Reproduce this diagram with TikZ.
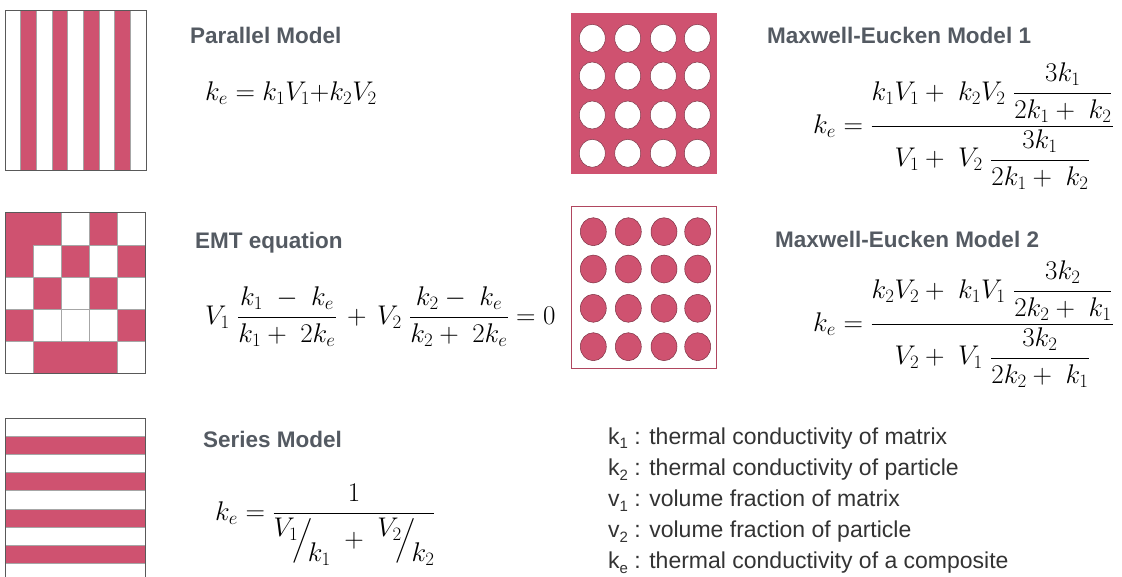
\RequirePackage{fix-cm}
\documentclass[tikz,border=0pt]{standalone}
\usepackage{amsmath}
\usepackage{fontspec}
\setmainfont{Liberation Sans}
\definecolor{Rose}{HTML}{CF5270}
\definecolor{Title}{HTML}{545A62}
\definecolor{Ink}{HTML}{333333}
\newcommand{\lsub}[1]{\raisebox{-0.4ex}{\fontsize{15}{15}\selectfont #1}}
\newcommand{\slfrac}[2]{\raisebox{0.42em}{$#1$}\mkern-4mu\Big/\mkern-3mu\raisebox{-0.5em}{$#2$}}

\begin{document}
\begin{tikzpicture}[x=1pt,y=-1pt,
 title/.style={anchor=base west,inner sep=0pt,text=Title,font=\fontsize{22.5}{27}\selectfont\bfseries},
 eqn/.style={anchor=base west,inner sep=0pt,font=\fontsize{27}{32}\selectfont},
 legend/.style={anchor=base west,inner sep=0pt,text=Ink,font=\fontsize{23}{27}\selectfont},
 cell/.style={fill=white,draw=gray!70,line width=0.6pt},
 frame/.style={draw=gray!70!black,line width=0.8pt}]
 \useasboundingbox (0,0) rectangle (1122,576);
 % parallel model
 \fill[Rose] (5,10) rectangle (146,170);
 \foreach \i in {0,2,4,6,8}
  \draw[cell] ({5+\i*15.67},10) rectangle ({5+(\i+1)*15.67},170);
 \draw[frame] (5,10) rectangle (146,170);
 % EMT
 \fill[Rose] (5,212.7) rectangle (145,373.2);
 \foreach \c/\r in {3/1,5/1,2/2,4/2,1/3,3/3,5/3,2/4,3/4,4/4,1/5,5/5}
  \draw[cell] ({5+(\c-1)*28},{212.7+(\r-1)*32.1}) rectangle +(28,32.1);
 \draw[frame] (5,212.7) rectangle (145,373.2);
 % series model
 \begin{scope}
  \clip (0,0) rectangle (1122,576);
  \fill[Rose] (5,418.3) rectangle (145,582);
  \foreach \i in {0,2,4,6,8}
   \draw[cell] (5,{418.3+\i*18.1}) rectangle (145,{418.3+(\i+1)*18.1});
  \draw[frame] (5,582) |- (145,418.3) -- (145,582);
 \end{scope}
 % Maxwell-Eucken 1
 \fill[Rose] (570.7,12.7) rectangle (717.3,174);
 \foreach \x in {592.3,627.7,663.3,697.3}
  \foreach \y in {38.3,76,115,153.3}
   \draw[fill=white,draw=Rose!60!black,line width=0.5pt] (\x,\y) ellipse [x radius=13,y radius=14];
 % Maxwell-Eucken 2
 \draw[Rose!85!black,line width=1.4pt] (571.7,206.7) rectangle (716.7,368.3);
 \foreach \x in {593.3,628.3,664,697.7}
  \foreach \y in {231.7,269,308.3,346.7}
   \draw[fill=Rose,draw=Rose!60!black,line width=0.5pt] (\x,\y) ellipse [x radius=13,y radius=14];
 % titles
 \node[title] (parT) at (190,43) {Parallel Model};
 \node[title] (emtT) at (195,248) {EMT equation};
 \node[title] (serT) at (203,447) {Series Model};
 \node[title] (me1T) at (767,43) {Maxwell-Eucken Model 1};
 \node[title] (me2T) at (775,247) {Maxwell-Eucken Model 2};
 % equations
 \node[eqn] (parE) at (205,100) {$k_e = k_1V_1{+}k_2V_2$};
 \node[eqn] (emtE) at (205,324) {$\displaystyle V_1\;\frac{k_1 \;-\; k_e}{k_1 +\; 2k_e} \,+\, V_2\;\frac{k_2 - \;k_e}{k_2 +\; 2k_e} = 0$};
 \node[eqn] (serE) at (215,520) {$\displaystyle k_e = \frac{1}{\slfrac{V_1}{k_1} \;+\; \slfrac{V_2}{k_2}}$};
 \node[eqn] (me1E) at (813,133) {$\displaystyle k_e = \frac{k_1V_1 +\; k_2V_2\;\dfrac{3k_1}{2k_1 +\; k_2}}{V_1 +\; V_2\;\dfrac{3k_1}{2k_1 +\; k_2}}$};
 \node[eqn] (me2E) at (813,331) {$\displaystyle k_e = \frac{k_2V_2 +\; k_1V_1\;\dfrac{3k_2}{2k_2 +\; k_1}}{V_2 +\; V_1\;\dfrac{3k_2}{2k_2 +\; k_1}}$};
 % legend
 \foreach \t [count=\i from 0] in {k\lsub{1} : thermal conductivity of matrix,
   k\lsub{2} : thermal conductivity of particle,
   v\lsub{1} : volume fraction of matrix,
   v\lsub{2} : volume fraction of particle,
   k\lsub{e} : thermal conductivity of a composite}
  \node[legend] (leg\i) at (608,{444+\i*31.2}) {\t};
\end{tikzpicture}
\end{document}
